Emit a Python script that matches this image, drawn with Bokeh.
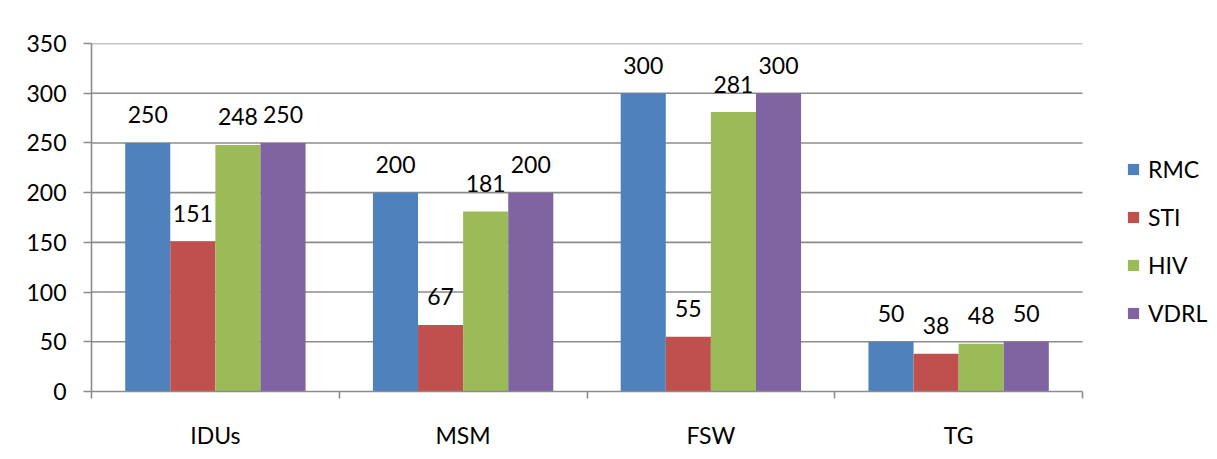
import numpy as np
from bokeh.plotting import figure
from bokeh.models import (ColumnDataSource, FixedTicker, Legend, LegendItem,
                          BoxAnnotation, Range1d)
from bokeh.core.properties import value
from bokeh.embed import file_html
from bokeh.resources import INLINE

categories = ["IDUs", "MSM", "FSW", "TG"]
series_names = ["RMC", "STI", "HIV", "VDRL"]
rmc = [250, 200, 300, 50]
sti = [151, 67, 55, 38]
hiv = [248, 181, 281, 48]
vdrl = [250, 200, 300, 50]
y_ticks = [0, 50, 100, 150, 200, 250, 300, 350]

colors = ["#4f81bd", "#c0504d", "#9bbb59", "#8064a2"]
FONT = "Lato"
FS = "23px"

W, H = 1209, 451
n = len(categories)
LEFT, TOP, RIGHT, BOTTOM = 91, 43, 0, 51
frame_w = W - LEFT - RIGHT
# the frame reaches past the categories so the legend (drawn inside it) is not clipped;
# the category area covers 991 frame pixels
x_end = n * frame_w / 991
p = figure(width=W, height=H, output_backend="svg", toolbar_location=None,
           x_range=Range1d(0, x_end), y_range=Range1d(0, 350),
           min_border_left=LEFT, min_border_top=TOP, min_border_right=RIGHT,
           min_border_bottom=BOTTOM)
p.border_fill_color = "white"
p.background_fill_color = "white"
p.outline_line_color = None

# grey strip above the chart card and the card's border line
strip = BoxAnnotation(left=-20, right=W + 20, top=-20, bottom=5,
                      left_units="canvas", right_units="canvas",
                      top_units="canvas", bottom_units="canvas",
                      fill_color="#e8e6e1", fill_alpha=1.0,
                      line_color=None, level="overlay")
card = BoxAnnotation(left=0, right=W + 20, top=5, bottom=H + 20,
                     left_units="canvas", right_units="canvas",
                     top_units="canvas", bottom_units="canvas",
                     fill_alpha=0.0, line_color="#9a9a9a", line_width=2,
                     level="overlay")
p.add_layout(strip)
p.add_layout(card)

grid_col = "#8c8c8c"
gy = y_ticks[1:]
gsrc = ColumnDataSource(dict(x0=[0] * len(gy), x1=[n] * len(gy), y=gy))
p.segment(x0="x0", x1="x1", y0="y", y1="y", source=gsrc,
          line_color=grid_col, line_width=1.6, level="underlay")

bw = 0.182
offsets = [-1.5 * bw, -0.5 * bw, 0.5 * bw, 1.5 * bw]
idx = np.arange(n) + 0.5
all_series = [rmc, sti, hiv, vdrl]
items = []
for name, vals, off, col in zip(series_names, all_series, offsets, colors):
    src = ColumnDataSource(dict(x=idx + off, top=vals,
                                lab=[str(v) for v in vals]))
    r = p.vbar(x="x", top="top", width=bw, source=src, fill_color=col,
               line_color=None)
    p.text(x="x", y="top", text="lab", source=src, text_align="center",
           text_baseline="alphabetic", y_offset=-28,
           text_font=value(FONT), text_font_size=FS, text_color="#000000")
    items.append(LegendItem(label=name, renderers=[r]))

legend = Legend(items=items, location=(1035, 63), orientation="vertical",
                glyph_width=14, glyph_height=14, label_height=30,
                spacing=18, padding=0, margin=0,
                label_text_font=FONT, label_text_font_size=FS,
                label_text_color="#000000",
                label_standoff=8, border_line_color=None,
                background_fill_alpha=0)
p.add_layout(legend, "center")

p.xgrid.visible = False
p.ygrid.visible = False

ya = p.yaxis[0]
ya.ticker = FixedTicker(ticks=y_ticks)
ya.axis_line_color = grid_col
ya.axis_line_width = 1.6
ya.major_tick_line_color = grid_col
ya.major_tick_line_width = 1.6
ya.major_tick_out = 8
ya.major_tick_in = 0
ya.minor_tick_line_color = None
ya.major_label_standoff = 17
ya.major_label_text_font = FONT
ya.major_label_text_font_size = FS
ya.major_label_text_color = "#000000"

xa = p.xaxis[0]
xa.bounds = (0, n)
xa.ticker = FixedTicker(ticks=list(idx), minor_ticks=list(range(n + 1)))
xa.major_label_overrides = {float(v): c for v, c in zip(idx, categories)}
xa.axis_line_color = grid_col
xa.axis_line_width = 1.6
xa.major_tick_line_color = None
xa.major_tick_out = 0
xa.major_tick_in = 0
xa.minor_tick_line_color = grid_col
xa.minor_tick_line_width = 1.6
xa.minor_tick_out = 7
xa.minor_tick_in = 0
xa.major_label_standoff = 22
xa.major_label_text_font = FONT
xa.major_label_text_font_size = FS
xa.major_label_text_color = "#000000"

open("out.html", "w").write(file_html(p, INLINE))
